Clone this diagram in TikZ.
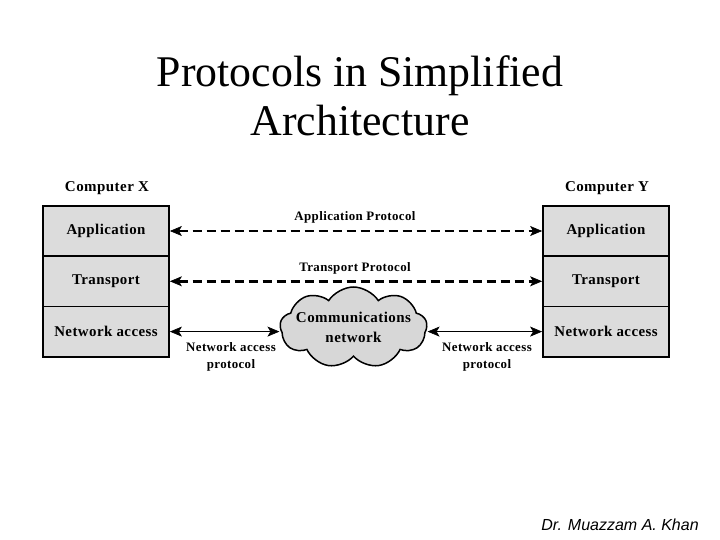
\documentclass[tikz,border=0pt]{standalone}
\usepackage{fontspec}
\setmainfont{Liberation Serif}
\setsansfont{Liberation Sans}
\newfontfamily\diagfont{Liberation Serif}[LetterSpace=3]
\usetikzlibrary{shapes.symbols,arrows.meta}
\definecolor{boxgray}{RGB}{220,220,220}
\definecolor{cloudgray}{RGB}{215,215,215}
\begin{document}
\begin{tikzpicture}[x=1pt,y=-1pt,
  layer/.style={draw, line width=1.8pt, fill=boxgray, minimum width=126pt, minimum height=50.3pt, inner sep=0pt, font=\diagfont\fontsize{14.9}{16}\selectfont\bfseries},
  lbl/.style={font=\diagfont\fontsize{12.9}{14}\selectfont\bfseries, inner sep=0pt, align=center},
  tip/.tip={Stealth[length=12pt,width=10pt,inset=3pt,line width=0.6pt]},
  dasharrow/.style={line width=2.6pt, dash pattern=on 9pt off 5pt, tip-tip},
  solidarrow/.style={line width=1.5pt, tip-tip}]
\useasboundingbox (0,0) rectangle (720,540);
\fill[white] (0,0) rectangle (720,540);
% title
\node[font=\fontsize{43.8}{49}\selectfont, align=center] (title) at (360,96) {Protocols in Simplified\\Architecture};
% left stack
\node[layer] (xa) at (106,231) {Application};
\node[layer] (xt) at (106,281.3) {Transport};
\node[layer] (xn) at (106,331.6) {Network access};
% right stack
\node[layer] (ya) at (606,231) {Application};
\node[layer] (yt) at (606,281.3) {Transport};
\node[layer] (yn) at (606,331.6) {Network access};
\node[lbl, font=\diagfont\fontsize{15}{16}\selectfont\bfseries] (cx) at (107,188) {Computer X};
\node[lbl, font=\diagfont\fontsize{15}{16}\selectfont\bfseries] (cy) at (607,188) {Computer Y};
% cloud
\node[cloud, cloud puffs=9, cloud puff arc=115, aspect=1.8, draw, line width=1.5pt, fill=cloudgray, minimum width=147pt, minimum height=81pt, inner sep=0pt] (net) at (353.5,327.5) {};
\node[lbl, font=\diagfont\fontsize{15}{20}\selectfont\bfseries] (nettext) at (net.center) {Communications\\network};
% arrows
\draw[dasharrow] (xa.east) -- (ya.west);
\draw[dasharrow] (xt.east) -- (yt.west);
\draw[solidarrow] (xn.east) -- (xn.east -| net.west);
\draw[solidarrow] (yn.west -| net.east) -- (yn.west);
% labels
\node[lbl] (ap) at (355,217) {Application Protocol};
\node[lbl] (tp) at (355,268) {Transport Protocol};
\node[lbl, font=\diagfont\fontsize{12.9}{17}\selectfont\bfseries] (nl) at (231,357) {Network access\\protocol};
\node[lbl, font=\diagfont\fontsize{12.9}{17}\selectfont\bfseries] (nr) at (487,357) {Network access\\protocol};
% footer
\node[font=\sffamily\itshape\fontsize{16}{18}\selectfont, inner sep=0pt] (auth) at (620,525) {Dr. Muazzam A. Khan};
\end{tikzpicture}
\end{document}
